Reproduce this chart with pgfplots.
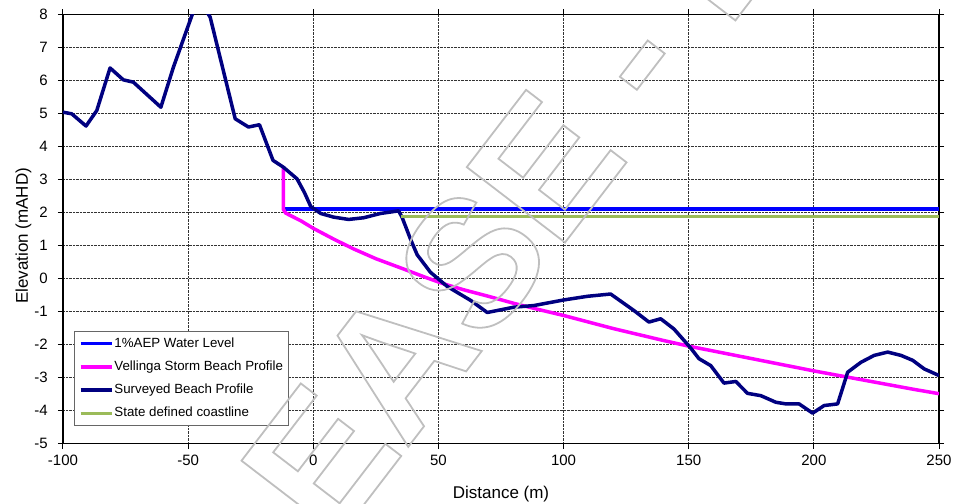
\documentclass[border=0pt]{standalone}
\usepackage{fontspec}
\setmainfont{Liberation Sans}
\usepackage{pgfplots}
\pgfplotsset{compat=1.18}
\usetikzlibrary{calc}
\definecolor{navy}{HTML}{000080}
\definecolor{aepblue}{HTML}{0000FF}
\definecolor{vmag}{HTML}{FF00FF}
\definecolor{coast}{HTML}{9BBB59}
\begin{document}
\begin{tikzpicture}
\begin{axis}[name=ax, at={(0,0)}, anchor=south west,
 width=876bp, height=429bp, scale only axis,
 xmin=-100, xmax=250, ymin=-5, ymax=8,
 xtick={-100,-50,...,250}, ytick={-5,-4,...,8},
 grid=major, grid style={densely dotted, line width=0.8bp, black!80},
 axis line style={black, line width=1.2bp},
 tick align=outside, major tick length=5bp, tick style={black, line width=1bp},
 /pgf/number format/assume math mode=true,
 ticklabel style={font=\fontsize{15bp}{18bp}\selectfont, inner sep=0pt},
 yticklabel style={xshift=-10bp},
 xticklabel style={yshift=-6bp},
 label style={font=\fontsize{17bp}{20bp}\selectfont},
 xlabel={Distance (m)}, ylabel={Elevation (mAHD)},
 xlabel style={at={(axis description cs:0.5,-0.128)}, anchor=base},
 ylabel style={at={(axis description cs:-0.04,0.484)}, anchor=base},
 legend style={at={(0.0126,0.262)}, anchor=north west, draw=black!60, line width=0.8bp, fill=white,
   font=\fontsize{13.3bp}{15bp}\selectfont, inner xsep=4.5bp, inner ysep=4.5bp, row sep=8.3bp,
   nodes={inner sep=1bp, text height=10bp, text depth=3bp}},
 legend cell align=left,
 legend image code/.code={\draw[#1] (0bp,0bp) -- (31bp,0bp);},
]
\addplot[aepblue, line width=3.5bp] coordinates {(-12,2.1) (250,2.1)};
\addlegendentry{1\%AEP Water Level}
\addplot[vmag, line width=3.5bp] coordinates {
(-12,3.4) (-12,2.1) (-11,1.98) (-5,1.75) (0,1.52) (8,1.2) (16,0.9) (25,0.6) (36,0.29) (45,0.03)
(52,-0.16) (60,-0.34) (70,-0.54) (80,-0.75) (90,-0.94) (100,-1.12) (110,-1.32) (120,-1.52)
(130,-1.7) (140,-1.88) (150,-2.05) (160,-2.2) (170,-2.35) (180,-2.5) (190,-2.65) (200,-2.8)
(210,-2.94) (220,-3.08) (230,-3.22) (240,-3.36) (250,-3.49)};
\addlegendentry{Vellinga Storm Beach Profile}
\addplot[navy, line width=3.5bp, line join=round] coordinates {
(-100,5.04) (-96.5,4.99) (-90.8,4.62) (-86.5,5.09) (-81.2,6.38) (-75.9,6.02) (-71.9,5.95)
(-60.9,5.19) (-55.9,6.40) (-46,8.5) (-41.2,7.92) (-31.2,4.84) (-25.9,4.59) (-21.5,4.66)
(-16.1,3.58) (-11.9,3.37) (-6.5,3.02) (-3.5,2.6) (-1,2.18) (3,1.97) (8.1,1.86) (14.1,1.79)
(20.1,1.84) (26.8,1.97) (34.1,2.05) (35.5,1.85) (38.8,1.2) (41.5,0.72) (46.8,0.19) (53.5,-0.24)
(63,-0.67) (69.5,-1.03) (80.1,-0.87) (88.1,-0.82) (100.1,-0.65) (109.5,-0.54) (118.8,-0.47)
(128.1,-0.97) (134.1,-1.32) (138.8,-1.22) (144.1,-1.53) (150.5,-2.08) (154.1,-2.43) (158.8,-2.64)
(164.1,-3.17) (168.8,-3.12) (173.5,-3.48) (178.8,-3.55) (184.8,-3.75) (188.8,-3.80) (194.1,-3.80)
(199.5,-4.08) (204.1,-3.85) (209.5,-3.80) (213.5,-2.84) (218.8,-2.54) (224.1,-2.33) (229.5,-2.23)
(234.8,-2.33) (239.5,-2.48) (244.1,-2.74) (250,-2.94)};
\addlegendentry{Surveyed Beach Profile}
\addplot[coast, line width=3bp] coordinates {(35,1.87) (250,1.87)};
\addlegendentry{State defined coastline}
\coordinate (wm) at (axis cs:7.6,-8.1);
\end{axis}
\coordinate (bbsw) at ($(ax.south west)+(-63bp,-60.5bp)$);
\coordinate (bbne) at ($(ax.north east)+(16bp,14.5bp)$);
\begin{scope}
\clip (bbsw) rectangle (bbne);
\node[rotate=52.5, anchor=base west, inner sep=0pt, font=\bfseries\fontsize{180bp}{180bp}\selectfont] at (wm)
 {\special{pdf:literal direct 0.75 G 1.8 w 1 Tr}\llap{REL}EASE - DRAFT\special{pdf:literal direct 0 Tr}};
\end{scope}
\pgfresetboundingbox
\path[use as bounding box] (bbsw) rectangle (bbne);
\end{tikzpicture}
\end{document}
